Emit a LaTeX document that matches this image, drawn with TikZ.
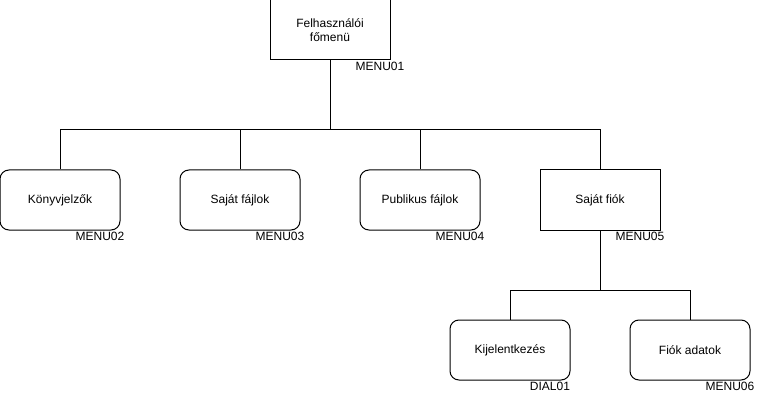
\documentclass[tikz,border=0pt]{standalone}
\usepackage{fontspec}
\setmainfont{Liberation Sans}
\begin{document}
\begin{tikzpicture}[x=1pt, y=-1pt,
        menubox/.style={draw, line width=1pt, minimum width=120pt, minimum height=60pt, inner sep=0pt, align=center, font=\fontsize{12}{14}\selectfont},
        roundbox/.style={menubox, rounded corners=9pt},
        code/.style={inner sep=0pt, font=\fontsize{12}{14}\selectfont},
        link/.style={line width=1pt}]
            \useasboundingbox (0,0) rectangle (761,401);
            \node[menubox] (fomenu) at (330,30) {Felhasználói\\főmenü};
            \node[roundbox] (konyv) at (60,200) {Könyvjelzők};
            \node[roundbox] (sajatf) at (240,200) {Saját fájlok};
            \node[roundbox] (publ) at (420,200) {Publikus fájlok};
            \node[menubox] (fiok) at (600,200) {Saját fiók};
            \node[roundbox] (kijel) at (510,350) {Kijelentkezés};
            \node[roundbox] (adat) at (690,350) {Fiók adatok};
            \node[code] (m01) at (380,66) {MENU01};
            \node[code] (m02) at (100,236) {MENU02};
            \node[code] (m03) at (280,236) {MENU03};
            \node[code] (m04) at (460,236) {MENU04};
            \node[code] (m05) at (640,236) {MENU05};
            \node[code] (d01) at (550,386) {DIAL01};
            \node[code] (m06) at (730,386) {MENU06};
            \coordinate (j1) at (330,130);
            \coordinate (j2) at (600,290);
            \draw[link] (fomenu.south) -- (j1);
            \draw[link] (j1) -| (konyv.north);
            \draw[link] (j1) -| (sajatf.north);
            \draw[link] (j1) -| (publ.north);
            \draw[link] (j1) -| (fiok.north);
            \draw[link] (fiok.south) -- (j2);
            \draw[link] (j2) -| (kijel.north);
            \draw[link] (j2) -| (adat.north);
        \end{tikzpicture}
\end{document}
